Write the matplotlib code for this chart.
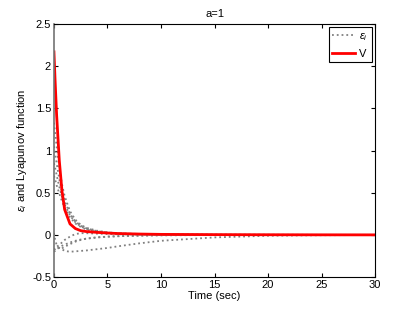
import numpy as np
import matplotlib.pyplot as plt

plt.rcParams['font.family'] = ['Liberation Sans', 'DejaVu Sans']
plt.rcParams['mathtext.fontset'] = 'custom'
plt.rcParams['mathtext.it'] = 'Liberation Sans:italic'
plt.rcParams['mathtext.rm'] = 'Liberation Sans'

t = [0, 0.1, 0.25, 0.5, 0.75, 1, 1.5, 2, 2.5, 3, 4, 5, 6, 8, 10, 15, 20, 25, 30]

V = [2.17, 1.85, 1.42, 0.88, 0.52, 0.30, 0.13, 0.075, 0.05, 0.04, 0.03,
     0.022, 0.016, 0.01, 0.006, 0.003, 0.0015, 0.0005, 0.0]

eps = [
    [1.33, 1.22, 1.05, 0.80, 0.60, 0.46, 0.28, 0.18, 0.12, 0.085, 0.05,
     0.03, 0.02, 0.01, 0.005, 0.002, 0.001, 0.0, 0.0],
    [1.05, 0.97, 0.85, 0.66, 0.51, 0.40, 0.25, 0.16, 0.11, 0.08, 0.045,
     0.028, 0.018, 0.008, 0.004, 0.002, 0.001, 0.0, 0.0],
    [0.85, 0.80, 0.71, 0.57, 0.45, 0.36, 0.23, 0.15, 0.10, 0.072, 0.04,
     0.025, 0.015, 0.007, 0.004, 0.002, 0.001, 0.0, 0.0],
    [0.70, 0.66, 0.59, 0.49, 0.40, 0.32, 0.21, 0.135, 0.095, 0.065, 0.035,
     0.022, 0.013, 0.006, 0.003, 0.001, 0.0, 0.0, 0.0],
    [-0.18, -0.17, -0.16, -0.155, -0.17, -0.19, -0.20, -0.195, -0.19, -0.185,
     -0.17, -0.155, -0.135, -0.10, -0.07, -0.03, -0.01, -0.004, -0.001],
    [0.02, -0.05, -0.12, -0.16, -0.16, -0.14, -0.11, -0.08, -0.06, -0.045,
     -0.03, -0.02, -0.015, -0.008, -0.004, -0.001, 0.0, 0.0, 0.0],
    [-0.20, -0.19, -0.17, -0.15, -0.13, -0.115, -0.09, -0.07, -0.055, -0.045,
     -0.03, -0.022, -0.016, -0.009, -0.005, -0.002, -0.001, 0.0, 0.0],
    [-0.18, -0.16, -0.14, -0.12, -0.09, -0.06, -0.02, 0.01, 0.02, 0.02,
     0.015, 0.01, 0.007, 0.004, 0.002, 0.001, 0.0, 0.0, 0.0],
]

fig = plt.figure(figsize=(4.15, 3.12), dpi=100)
ax = fig.add_axes([0.130, 0.112, 0.774, 0.811])

for i, e in enumerate(eps):
    ax.plot(t, e, linestyle=':', color='0.5', linewidth=1.3,
            label=r'$\varepsilon_i$' if i == 0 else None)
ax.plot(t, V, color='red', linewidth=2, label='V')

ax.set_xlim(0, 30)
ax.set_ylim(-0.5, 2.5)
ax.set_xticks(np.arange(0, 31, 5))
ax.set_yticks(np.arange(-0.5, 2.6, 0.5))
ax.set_yticklabels(['-0.5', '0', '0.5', '1', '1.5', '2', '2.5'])
ax.tick_params(direction='in', top=True, right=True, labelsize=8, length=3, pad=2)
for s in ax.spines.values():
    s.set_linewidth(0.8)
ax.spines['left'].set_color('0.45')
ax.spines['left'].set_linewidth(1.2)

ax.set_xlabel('Time (sec)', fontsize=8, labelpad=1)
ax.set_ylabel(r'$\varepsilon_i$ and Lyapunov function', fontsize=8, labelpad=2)
ax.set_title('a=1', fontsize=8, pad=5)

leg = ax.legend(loc='upper right', fontsize=8, fancybox=False, framealpha=1,
                edgecolor='black', handlelength=2.0, handletextpad=0.4,
                borderpad=0.35, borderaxespad=0.3)
leg.get_frame().set_linewidth(0.8)

plt.savefig('out.png', dpi=100)
